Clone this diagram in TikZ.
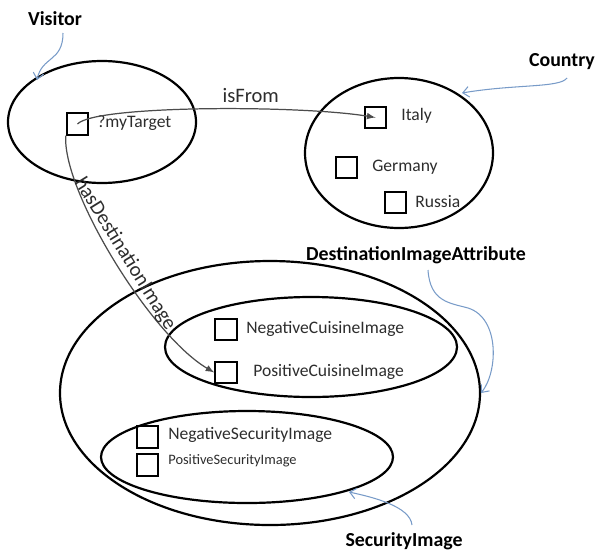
\documentclass[tikz,border=0pt]{standalone}
\usepackage{fontspec}
\setmainfont{Carlito}
\usetikzlibrary{arrows.meta}
\definecolor{hintblue}{RGB}{120,155,200}
\definecolor{ink}{RGB}{45,45,45}
\tikzset{
  set/.style={line width=1.25pt},
  box/.style={draw,line width=1.1pt,minimum size=0.43cm,inner sep=0pt},
  txt/.style={anchor=west,inner sep=0pt,text=ink,font=\fontsize{10}{12}\selectfont},
  cls/.style={font=\bfseries\fontsize{11.3}{13}\selectfont},
  rel/.style={draw=black!70,line width=.7pt,->},
  rellbl/.style={text=ink,font=\fontsize{11.7}{14}\selectfont},
  hint/.style={draw=hintblue,line width=.6pt,-{Straight Barb[length=3.5pt,width=6pt]}}
}
\begin{document}
\begin{tikzpicture}[>=latex,x=0.02cm,y=-0.02cm]
\useasboundingbox (0,0) rectangle (597,551);
\draw[set] (102,122) ellipse (94 and 61);
\draw[set] (399,153) ellipse (94 and 75);
\draw[set] (270,393) ellipse (210 and 132);
\draw[set] (311,347) ellipse (146 and 50);
\draw[set] (247,457) ellipse (146 and 46);

\node[cls] (V) at (55,19) {Visitor};
\node[cls] (C) at (562,62) {Country};
\node[cls] (DIA) at (416,255) {DestinationImageAttribute};
\node[cls] (SI) at (404,541) {SecurityImage};

\node[box] (T) at (77.5,124) {};
\node[txt] (Tt) at (97,123) {?myTarget};
\node[box] (IT) at (375.5,117.5) {};
\node[txt] (ITt) at (401,116) {Italy};
\node[box] (DE) at (346.5,167.5) {};
\node[txt] (DEt) at (372,167) {Germany};
\node[box] (RU) at (395.5,202.5) {};
\node[txt] (RUt) at (415,202) {Russia};
\node[box] (NC) at (226,329.5) {};
\node[txt] (NCt) at (246,329) {NegativeCuisineImage};
\node[box] (PC) at (226,372.5) {};
\node[txt] (PCt) at (253,372) {PositiveCuisineImage};
\node[box] (NS) at (147.5,437) {};
\node[txt] (NSt) at (168,435) {NegativeSecurityImage};
\node[box] (PS) at (147.5,465) {};
\node[txt,font=\fontsize{8.2}{10}\selectfont] (PSt) at (168,461) {PositiveSecurityImage};

\draw[rel] (T.center) .. controls (95,105) and (300,105) .. node[pos=.62,above,rellbl] (isF) {isFrom} (IT.center);
\draw[rel] (T.south west) .. controls (62,190) and (150,335) .. node[pos=.5,sloped,above=1.5pt,inner sep=0pt,rellbl] (hDI) {hasDestinationImage} (PC.west);

\coordinate (v0) at (63,33);
\coordinate (v1) at (37,80);
\coordinate (c0) at (567,78);
\coordinate (c1) at (462,93);
\coordinate (d0) at (428,270);
\coordinate (d1) at (481,393);
\coordinate (s0) at (412,525);
\coordinate (s1) at (349,492);
\draw[hint] (v0) .. controls (63,62) and (42,56) .. (v1);
\draw[hint] (c0) .. controls (560,88) and (515,84) .. (c1);
\draw[hint] (d0) .. controls (430,302) and (450,303) .. (468,308) .. controls (500,318) and (498,372) .. (d1);
\draw[hint] (s0) .. controls (410,506) and (372,497) .. (s1);
\end{tikzpicture}
\end{document}
